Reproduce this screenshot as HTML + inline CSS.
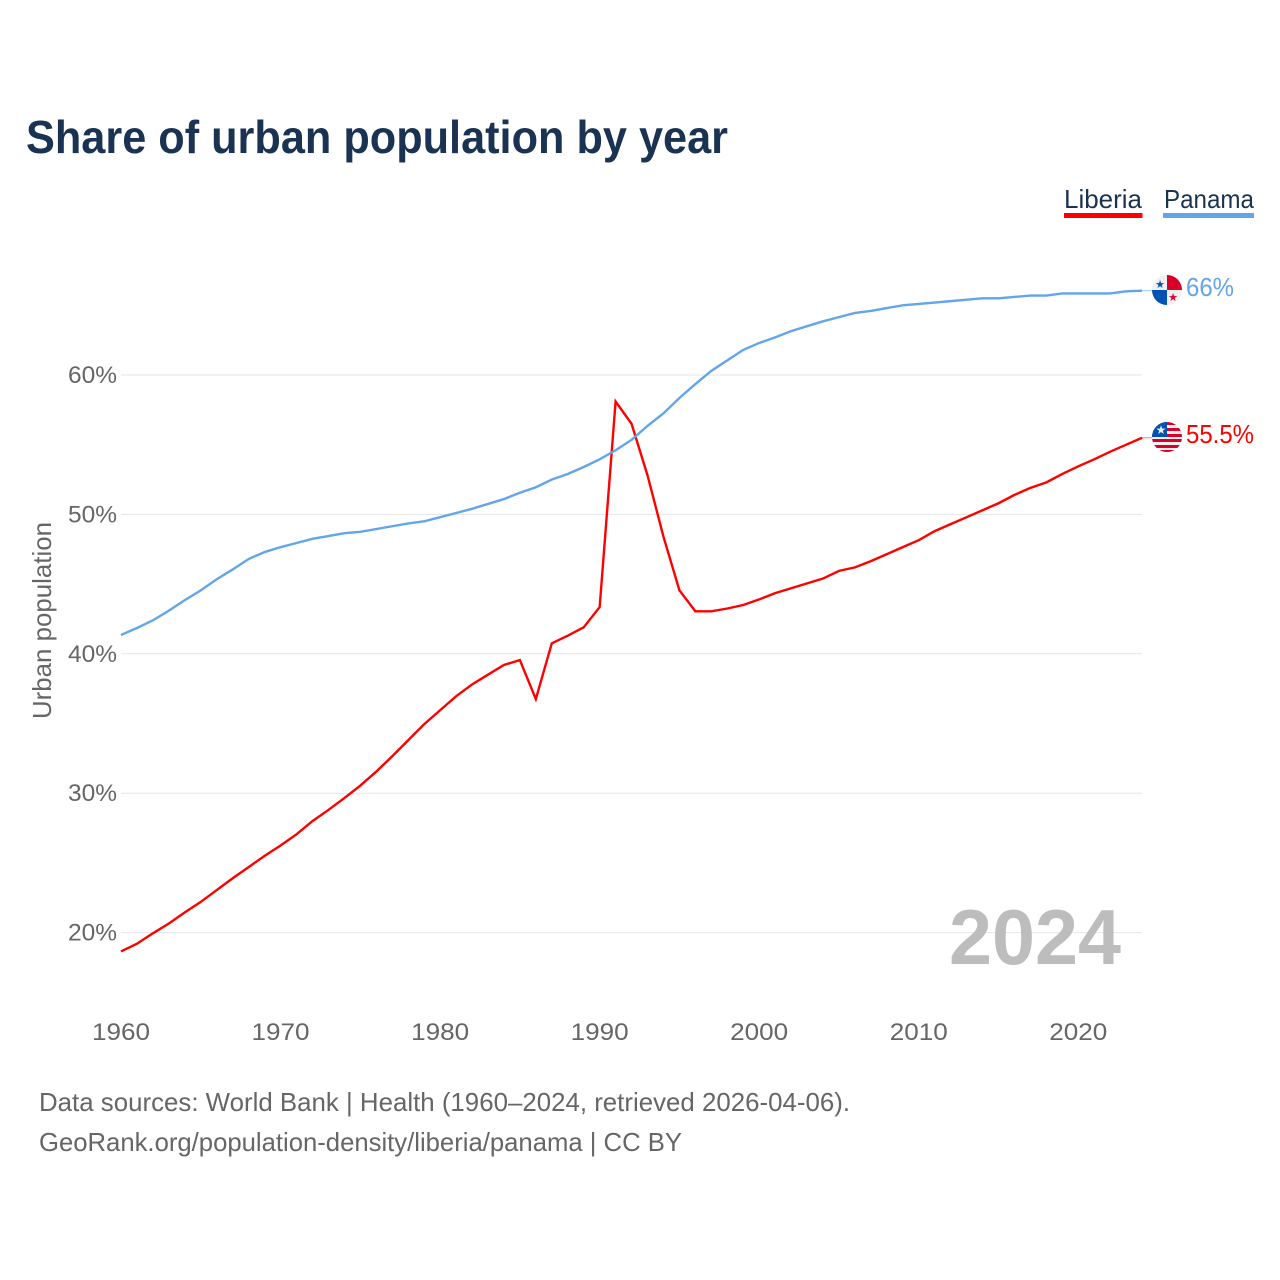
<!DOCTYPE html>
<html lang="en">
<head>
<meta charset="utf-8">
<title>Share of urban population by year</title>
<style>
html,body{margin:0;padding:0;background:#fff;}
svg{display:block;font-family:"Liberation Sans",Arial,sans-serif;}
</style>
</head>
<body>
<svg id="chart" xmlns="http://www.w3.org/2000/svg" width="1280" height="1280" viewBox="0 0 1280 1280">
  <defs>
    <clipPath id="flag-clip-pa"><circle cx="1167" cy="290" r="15"/></clipPath>
    <clipPath id="flag-clip-lr"><circle cx="1167" cy="437" r="15"/></clipPath>
  </defs>
  <rect x="0" y="0" width="1280" height="1280" fill="#ffffff"/>
  <text x="26" y="153" font-size="46" font-weight="700" fill="#1a3352" textLength="702" lengthAdjust="spacingAndGlyphs">Share of urban population by year</text>

  <g>
    <g>
      <text x="1064" y="208" font-size="26" fill="#1a3352" textLength="78" lengthAdjust="spacingAndGlyphs">Liberia</text>
      <rect x="1064" y="213" width="78.500" height="5" fill="#ff0000"/>
    </g>
    <g>
      <text x="1164" y="208" font-size="26" fill="#1a3352" textLength="90" lengthAdjust="spacingAndGlyphs">Panama</text>
      <rect x="1163" y="213" width="91" height="5" fill="#62a5eb"/>
    </g>
  </g>

  <g id="grid"></g>
  <g id="yticks"></g>
  <g id="xticks"></g>
  <text transform="translate(51 620.500) rotate(-90)" text-anchor="middle" font-size="26" fill="#666666" textLength="197" lengthAdjust="spacingAndGlyphs">Urban population</text>

  <text x="949" y="964" font-size="78" font-weight="700" fill="#bdbdbd" textLength="172" lengthAdjust="spacingAndGlyphs">2024</text>

  <g id="series"></g>

  <g clip-path="url(#flag-clip-pa)">
    <rect x="1152" y="275" width="30" height="30" fill="#f0f0f0"/>
    <rect x="1167" y="275" width="15" height="15" fill="#d80027"/>
    <rect x="1152" y="290" width="15" height="15" fill="#0052b4"/>
    <text x="1160" y="288" font-size="11" text-anchor="middle" fill="#0052b4">★</text>
    <text x="1173" y="301" font-size="11" text-anchor="middle" fill="#d80027">★</text>
  </g>
  <g clip-path="url(#flag-clip-lr)">
    <rect x="1152" y="422" width="30" height="30" fill="#f0f0f0"/>
    <rect x="1152" y="422" width="30" height="3" fill="#d80027"/>
    <rect x="1152" y="428" width="30" height="3" fill="#d80027"/>
    <rect x="1152" y="434" width="30" height="3" fill="#d80027"/>
    <rect x="1152" y="439" width="30" height="3" fill="#d80027"/>
    <rect x="1152" y="445" width="30" height="3" fill="#d80027"/>
    <rect x="1152" y="450" width="30" height="3" fill="#d80027"/>
    <rect x="1152" y="422" width="15" height="15" fill="#0052b4"/>
    <text x="1161" y="434" font-size="12" text-anchor="middle" fill="#f0f0f0">★</text>
  </g>

  <text id="end-label-panama" x="1186" y="296" font-size="26" fill="#62a5eb" textLength="48" lengthAdjust="spacingAndGlyphs"></text>
  <text id="end-label-liberia" x="1186" y="443" font-size="26" fill="#ff0000" textLength="68" lengthAdjust="spacingAndGlyphs"></text>

  <text x="39" y="1111" font-size="26" fill="#666666" textLength="811" lengthAdjust="spacingAndGlyphs">Data sources: World Bank | Health (1960–2024, retrieved 2026-04-06).</text>
  <text x="39" y="1151" font-size="26" fill="#666666" textLength="643" lengthAdjust="spacingAndGlyphs">GeoRank.org/population-density/liberia/panama | CC BY</text>
</svg>
<script>
var startYear = 1960;
var yTickValues = [20, 30, 40, 50, 60];
var yTickLabels = ["20%", "30%", "40%", "50%", "60%"];
var xTickValues = [1960, 1970, 1980, 1990, 2000, 2010, 2020];
var xTickLabels = ["1960", "1970", "1980", "1990", "2000", "2010", "2020"];
var liberiaValues = [18.65,19.2,19.95,20.65,21.45,22.2,23.05,23.9,24.7,25.5,26.25,27.05,28,28.8,29.65,30.55,31.55,32.65,33.8,34.95,35.95,36.95,37.8,38.5,39.2,39.55,36.75,40.75,41.3,41.9,43.35,58.1,56.5,52.8,48.4,44.55,43.05,43.05,43.25,43.5,43.9,44.35,44.7,45.05,45.4,45.95,46.2,46.65,47.15,47.65,48.15,48.8,49.3,49.8,50.3,50.8,51.4,51.9,52.3,52.9,53.45,53.95,54.5,55,55.5];
var panamaValues = [41.35,41.85,42.4,43.1,43.85,44.55,45.35,46.05,46.8,47.3,47.65,47.95,48.25,48.45,48.65,48.75,48.95,49.15,49.35,49.5,49.8,50.1,50.4,50.75,51.1,51.55,51.95,52.5,52.9,53.4,53.95,54.6,55.35,56.35,57.25,58.35,59.35,60.3,61.05,61.8,62.3,62.7,63.15,63.5,63.85,64.15,64.45,64.6,64.8,65,65.1,65.2,65.3,65.4,65.5,65.5,65.6,65.7,65.7,65.85,65.85,65.85,65.85,66,66.05];
var endLabelPanama = "66%";
var endLabelLiberia = "55.5%";

var SVG_NS = "http://www.w3.org/2000/svg";
function xScale(year) { return 121 + (year - 1960) * 15.955; }
function yScale(value) { return 375 + (60 - value) * 13.94; }
function make(tag, parent) {
  var el = document.createElementNS(SVG_NS, tag);
  parent.appendChild(el);
  return el;
}
var gridGroup = document.getElementById("grid");
var yTickGroup = document.getElementById("yticks");
var xTickGroup = document.getElementById("xticks");
var seriesGroup = document.getElementById("series");

yTickValues.forEach(function (v, i) {
  var line = make("line", gridGroup);
  
  
  line.setAttribute("x1", 121);
  line.setAttribute("x2", 1142);
  line.setAttribute("y1", yScale(v));
  line.setAttribute("y2", yScale(v));
  line.setAttribute("stroke", "#e6e6e6");
  line.setAttribute("stroke-width", "1");
  var label = make("text", yTickGroup);
  
  
  label.setAttribute("x", 117);
  label.setAttribute("y", yScale(v) + 8);
  label.setAttribute("text-anchor", "end");
  label.setAttribute("font-size", "24");
  label.setAttribute("fill", "#666666");
  label.setAttribute("textLength", "49");
  label.setAttribute("lengthAdjust", "spacingAndGlyphs");
  label.textContent = yTickLabels[i];
});

xTickValues.forEach(function (year, i) {
  var label = make("text", xTickGroup);
  
  
  label.setAttribute("x", xScale(year));
  label.setAttribute("y", 1040);
  label.setAttribute("text-anchor", "middle");
  label.setAttribute("font-size", "24");
  label.setAttribute("fill", "#666666");
  label.setAttribute("textLength", "58");
  label.setAttribute("lengthAdjust", "spacingAndGlyphs");
  label.textContent = xTickLabels[i];
});

function pointsFor(values) {
  return values.map(function (v, i) {
    return xScale(startYear + i).toFixed(2) + "," + yScale(v).toFixed(2);
  }).join(" ");
}

var lineLiberia = make("polyline", seriesGroup);


lineLiberia.setAttribute("points", pointsFor(liberiaValues));
lineLiberia.setAttribute("fill", "none");
lineLiberia.setAttribute("stroke", "#ff0000");
lineLiberia.setAttribute("stroke-width", "2.400");

var linePanama = make("polyline", seriesGroup);


linePanama.setAttribute("points", pointsFor(panamaValues));
linePanama.setAttribute("fill", "none");
linePanama.setAttribute("stroke", "#62a5eb");
linePanama.setAttribute("stroke-width", "2.400");

var lastYear = startYear + liberiaValues.length - 1;
var leaderLiberia = make("line", seriesGroup);


leaderLiberia.setAttribute("x1", xScale(lastYear));
leaderLiberia.setAttribute("x2", 1152);
leaderLiberia.setAttribute("y1", yScale(liberiaValues[liberiaValues.length - 1]));
leaderLiberia.setAttribute("y2", yScale(liberiaValues[liberiaValues.length - 1]));
leaderLiberia.setAttribute("stroke", "#ff0000");
leaderLiberia.setAttribute("stroke-opacity", "0.5");
leaderLiberia.setAttribute("stroke-width", "1");

var leaderPanama = make("line", seriesGroup);


leaderPanama.setAttribute("x1", xScale(lastYear));
leaderPanama.setAttribute("x2", 1152);
leaderPanama.setAttribute("y1", yScale(panamaValues[panamaValues.length - 1]));
leaderPanama.setAttribute("y2", yScale(panamaValues[panamaValues.length - 1]));
leaderPanama.setAttribute("stroke", "#62a5eb");
leaderPanama.setAttribute("stroke-opacity", "0.6");
leaderPanama.setAttribute("stroke-width", "1");

document.getElementById("end-label-panama").textContent = endLabelPanama;
document.getElementById("end-label-liberia").textContent = endLabelLiberia;
</script>
</body>
</html>
